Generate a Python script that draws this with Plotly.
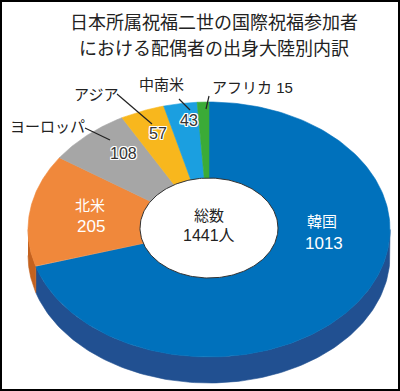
import numpy as np
import plotly.graph_objects as go

# ---- data ----
categories = ["韓国", "北米", "ヨーロッパ", "アジア", "中南米", "アフリカ"]
values = [1013, 205, 108, 57, 43, 15]
total_lines = ["総数", "1441人"]
title_lines = ["日本所属祝福二世の国際祝福参加者", "における配偶者の出身大陸別内訳"]

# ---- styles / geometry (pixel space) ----
top_colors = ["#0071bc", "#f0883b", "#a6a6a6", "#f8b71d", "#1b9fe0", "#3bab37"]
side_colors = ["#215091", "#c4621f", "#7f7f7f", "#c08a10", "#137ab0", "#2a7f28"]
CX, CY, RX, RY, DEPTH = 209.0, 229.5, 181.0, 127.5, 26.0
HCX, HCY, HRX, HRY = 209.0, 228.0, 69.0, 50.0
FONT = "Liberation Sans, Noto Sans CJK JP, sans-serif"
CJK = "Noto Sans CJK JP, sans-serif"


def pt(theta_deg, cy=CY):
    t = np.radians(theta_deg)
    return CX + RX * np.cos(t), cy - RY * np.sin(t)


fig = go.Figure()

total = sum(values)
starts, ends = [], []
a = 90.0
for v in values:
    sweep = 360.0 * v / total
    starts.append(a)
    ends.append(a - sweep)
    a -= sweep

# side faces (front half: theta in [-180, 0])
for i in range(len(values)):
    hi = min(starts[i], 0.0)
    lo = max(ends[i], -180.0)
    if hi <= lo:
        continue
    th = np.linspace(lo, hi, 120)
    xt, yt = pt(th)
    xb, yb = pt(th[::-1], CY + DEPTH)
    fig.add_trace(go.Scatter(
        x=np.concatenate([xt, xb]), y=np.concatenate([yt, yb]),
        fill="toself", fillcolor=side_colors[i], mode="lines",
        line=dict(color=side_colors[i], width=0.6), hoverinfo="skip",
        showlegend=False))

# top faces
for i in range(len(values)):
    th = np.linspace(starts[i], ends[i], 200)
    xo, yo = pt(th)
    fig.add_trace(go.Scatter(
        x=np.concatenate([[CX], xo, [CX]]), y=np.concatenate([[CY], yo, [CY]]),
        fill="toself", fillcolor=top_colors[i], mode="lines",
        line=dict(color=top_colors[i], width=0.6), hoverinfo="skip",
        showlegend=False))

# hole
th = np.linspace(0, 360, 240)
fig.add_trace(go.Scatter(
    x=HCX + HRX * np.cos(np.radians(th)), y=HCY - HRY * np.sin(np.radians(th)),
    fill="toself", fillcolor="white", mode="lines",
    line=dict(color="#333333", width=1), hoverinfo="skip", showlegend=False))

halo = "1px 1px 0 #fff, -1px -1px 0 #fff, 1px -1px 0 #fff, -1px 1px 0 #fff, 0 1px 0 #fff, 0 -1px 0 #fff, 1px 0 0 #fff, -1px 0 0 #fff"

# labels: (text, x, y, color, size, shadow)
inside = [
    (categories[0], 322, 221, "white", 15, None),
    (str(values[0]), 324, 243, "white", 17, None),
    (categories[1], 90, 205, "white", 15, None),
    (str(values[1]), 91, 226, "white", 17, None),
    (str(values[2]), 123, 153, "#333333", 16, halo),
    (str(values[3]), 158, 133, "#333333", 16, halo),
    (str(values[4]), 189, 120, "#333333", 16, halo),
]
for text, x, y, col, sz, sh in inside:
    f = dict(family=FONT, size=sz, color=col)
    if sh:
        f["shadow"] = sh
    fig.add_annotation(x=x, y=y, text=text, showarrow=False, font=f,
                       xanchor="center", yanchor="middle")

outside = [
    (categories[2], 47, 126, (85, 128), (110, 140)),
    (categories[3], 96, 94, (117, 94), (152, 124)),
    (categories[4], 161, 84, (179, 99), (190, 110)),
    (f"{categories[5]} {values[5]}", 252, 87, (209, 96), (206, 109)),
]
for text, x, y, p0, p1 in outside:
    fig.add_annotation(x=x, y=y, text=text, showarrow=False,
                       font=dict(family=FONT, size=15, color="#222222"),
                       xanchor="center", yanchor="middle")
    fig.add_shape(type="line", x0=p0[0], y0=p0[1], x1=p1[0], y1=p1[1],
                  line=dict(color="#222222", width=1.2))

for text, y, sz in [(total_lines[0], 215, 15), (total_lines[1], 235, 16)]:
    fig.add_annotation(x=209, y=y, text=text, showarrow=False,
                       font=dict(family=FONT, size=sz, color="#222222"),
                       xanchor="center", yanchor="middle")

for text, y in zip(title_lines, [21, 47]):
    fig.add_annotation(x=214, y=y, text=text, showarrow=False,
                       font=dict(family=CJK, size=18, color="#222222"),
                       xanchor="center", yanchor="middle")

fig.add_shape(type="rect", x0=1, y0=1, x1=399, y1=390,
              line=dict(color="black", width=2), fillcolor="rgba(0,0,0,0)")

fig.update_layout(
    width=400, height=391, margin=dict(l=0, r=0, t=0, b=0),
    paper_bgcolor="white", plot_bgcolor="white",
    xaxis=dict(range=[0, 400], visible=False, fixedrange=True),
    yaxis=dict(range=[391, 0], visible=False, fixedrange=True),
)

fig.write_html("out.html", config={"displayModeBar": False},
               post_script="document.body.style.margin='0';document.body.style.overflow='hidden';")
